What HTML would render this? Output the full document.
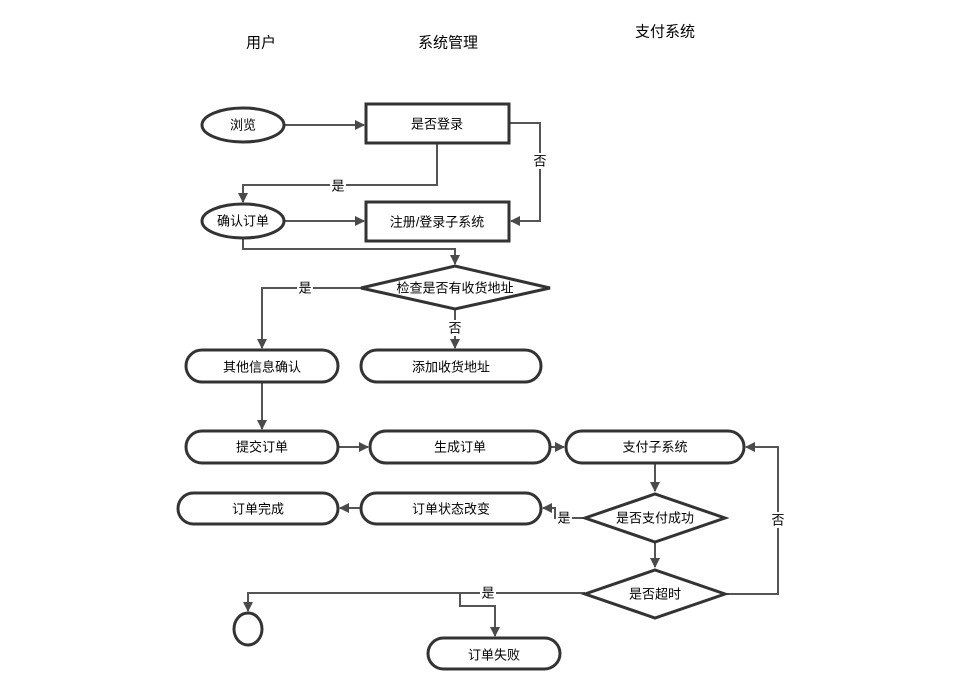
<!DOCTYPE html>
<html><head><meta charset="utf-8"><style>
html,body{margin:0;padding:0;background:#fff}
svg text{font-family:"Liberation Sans","Noto Sans CJK SC",sans-serif;font-size:13px;fill:#000;text-anchor:middle;dominant-baseline:central}
</style></head><body>
<svg width="953" height="693" viewBox="0 0 953 693" xmlns="http://www.w3.org/2000/svg">
<defs><marker id="a" markerWidth="10" markerHeight="10" refX="9" refY="5" orient="auto" markerUnits="userSpaceOnUse"><path d="M0,0 L10,5 L0,10 z" fill="#4a4a4a"/></marker></defs>
<g font-size="15">
<text x="261" y="43" style="font-size:15px">用户</text>
<text x="448" y="43" style="font-size:15px">系统管理</text>
<text x="665" y="32" style="font-size:15px">支付系统</text>
</g>
<g fill="none" stroke="#555" stroke-width="2">
<path d="M284,125 H364" marker-end="url(#a)"/>
<path d="M437,143 V185 H243 V202" marker-end="url(#a)"/>
<path d="M509,123 H540 V221 H511" marker-end="url(#a)"/>
<path d="M284,221 H364" marker-end="url(#a)"/>
<path d="M243,238 V249 H455 V264" marker-end="url(#a)"/>
<path d="M361,288 H262 V348" marker-end="url(#a)"/>
<path d="M455,309 V348" marker-end="url(#a)"/>
<path d="M262,382 V429" marker-end="url(#a)"/>
<path d="M338,447 H368" marker-end="url(#a)"/>
<path d="M550,447 H564" marker-end="url(#a)"/>
<path d="M655,463 V491" marker-end="url(#a)"/>
<path d="M585,518 H555 V508 H543" marker-end="url(#a)"/>
<path d="M361,508 H340" marker-end="url(#a)"/>
<path d="M655,543 V567" marker-end="url(#a)"/>
<path d="M725,594 H778 V447 H746" marker-end="url(#a)"/>
<path d="M585,593 H248 V611" marker-end="url(#a)"/>
<path d="M460,593 V606 H495 V636" marker-end="url(#a)"/>
</g>
<g fill="#fff" stroke="#333" stroke-width="3">
<ellipse cx="243" cy="125" rx="41" ry="17"/>
<rect x="366" y="104" width="143" height="39"/>
<rect x="366" y="202" width="143" height="39"/>
<ellipse cx="243" cy="221" rx="41" ry="17"/>
<polygon points="361,288 455,266 550,288 455,309"/>
<rect x="186" y="350" width="152" height="32" rx="16"/>
<rect x="361" y="350" width="180" height="32" rx="16"/>
<rect x="186" y="431" width="152" height="32" rx="16"/>
<rect x="370" y="431" width="180" height="32" rx="16"/>
<rect x="566" y="431" width="178" height="32" rx="16"/>
<rect x="178" y="493" width="160" height="31" rx="15.5"/>
<rect x="361" y="493" width="180" height="31" rx="15.5"/>
<polygon points="585,518 655,494 725,518 655,542"/>
<polygon points="585,594 655,570 725,594 655,618"/>
<ellipse cx="248" cy="629" rx="14" ry="16"/>
<rect x="428" y="638" width="132" height="31" rx="15.5"/>
</g>
<g>
<text x="243" y="125">浏览</text>
<text x="437" y="124">是否登录</text>
<text x="437" y="222">注册/登录子系统</text>
<text x="243" y="221">确认订单</text>
<text x="455" y="288">检查是否有收货地址</text>
<text x="262" y="367">其他信息确认</text>
<text x="451" y="367">添加收货地址</text>
<text x="262" y="447">提交订单</text>
<text x="460" y="447">生成订单</text>
<text x="655" y="447">支付子系统</text>
<text x="258" y="509">订单完成</text>
<text x="451" y="509">订单状态改变</text>
<text x="655" y="518">是否支付成功</text>
<text x="655" y="594">是否超时</text>
<text x="494" y="655">订单失败</text>
</g>
<g>
<rect x="330" y="178" width="16" height="16" fill="#fff"/><text x="338" y="186">是</text>
<rect x="532" y="153" width="16" height="16" fill="#fff"/><text x="540" y="161">否</text>
<rect x="297" y="280" width="16" height="16" fill="#fff"/><text x="305" y="288">是</text>
<rect x="447" y="320" width="16" height="16" fill="#fff"/><text x="455" y="328">否</text>
<rect x="556" y="510" width="16" height="16" fill="#fff"/><text x="564" y="518">是</text>
<rect x="770" y="512" width="16" height="16" fill="#fff"/><text x="778" y="520">否</text>
<rect x="480" y="585" width="16" height="16" fill="#fff"/><text x="488" y="593">是</text>
</g>
</svg>
</body></html>
